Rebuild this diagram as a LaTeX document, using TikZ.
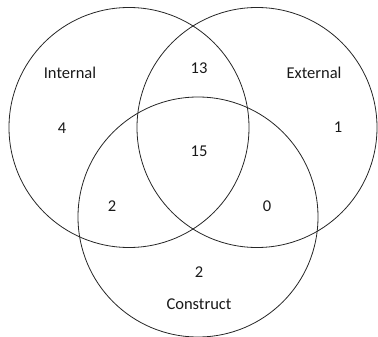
\documentclass[tikz,border=0pt]{standalone}
\usepackage{fontspec}
\setmainfont{Carlito}
\begin{document}
\begin{tikzpicture}[x=1pt,y=-1pt,
  setc/.style={circle,draw=black!85,line width=0.8pt,minimum size=240pt,inner sep=0pt},
  lbl/.style={font=\fontsize{16.5}{18}\selectfont,text=black!90,inner sep=0pt}]
\useasboundingbox (0,0) rectangle (378,337);
\node[setc] (L) at (129,127.5) {};
\node[setc] (R) at (257,127.5) {};
\node[setc] (B) at (198,217) {};
\node[lbl] (tin) at (70,73) {Internal};
\node[lbl] (tex) at (314,73) {External};
\node[lbl] (tco) at (199,304) {Construct};
\node[lbl] (n13) at (199,68) {13};
\node[lbl] (n4) at (62,128) {4};
\node[lbl] (n1) at (338,127) {1};
\node[lbl] (n15) at (199,151) {15};
\node[lbl] (n2a) at (112,206) {2};
\node[lbl] (n0) at (267,206) {0};
\node[lbl] (n2b) at (199,272) {2};
\end{tikzpicture}
\end{document}
